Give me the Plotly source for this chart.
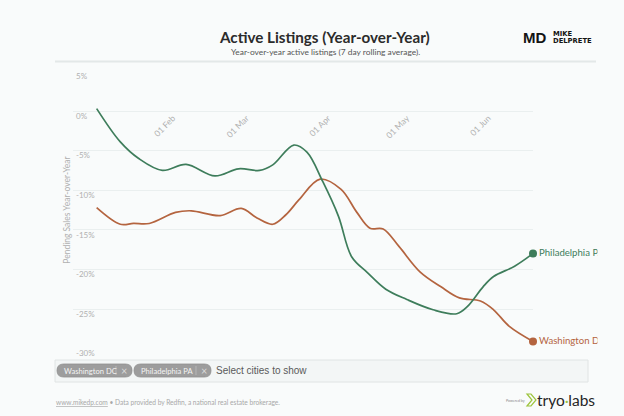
import plotly.graph_objects as go

# ---------------- data ----------------
phl_dates = ["2022-01-03", "2022-01-12", "2022-01-19", "2022-01-28", "2022-02-06",
             "2022-02-17", "2022-02-26", "2022-03-06", "2022-03-11", "2022-03-19",
             "2022-03-24", "2022-03-30", "2022-04-05", "2022-04-10", "2022-04-16",
             "2022-04-23", "2022-05-01", "2022-05-11", "2022-05-20", "2022-05-24",
             "2022-05-30", "2022-06-03", "2022-06-11", "2022-06-18"]
phl_vals = [0.3, -3.9, -6.0, -7.5, -6.75,
            -8.2, -7.3, -7.5, -6.8, -4.3,
            -5.2, -8.9, -13.3, -18.4, -20.4,
            -22.5, -23.8, -25.1, -25.6, -24.7,
            -22.2, -20.9, -19.6, -18.0]

dc_dates = ["2022-01-03", "2022-01-12", "2022-01-17", "2022-01-23", "2022-02-02",
            "2022-02-08", "2022-02-19", "2022-02-27", "2022-03-05", "2022-03-11",
            "2022-03-16", "2022-03-21", "2022-03-29", "2022-04-06", "2022-04-12",
            "2022-04-17", "2022-04-22", "2022-04-28", "2022-05-06", "2022-05-14",
            "2022-05-21", "2022-05-29", "2022-06-03", "2022-06-09", "2022-06-18"]
dc_vals = [-12.2, -14.3, -14.2, -14.2, -12.8,
           -12.6, -13.2, -12.3, -13.5, -14.3,
           -13.1, -11.2, -8.6, -9.9, -12.8,
           -14.8, -14.9, -17.1, -20.3, -22.2,
           -23.6, -24.0, -25.1, -27.2, -29.1]

y_tickvals = [5, 0, -5, -10, -15, -20, -25, -30]
y_ticktext = ["5%", "0%", "-5%", "-10%", "-15%", "-20%", "-25%", "-30%"]
x_tickvals = ["2022-02-01", "2022-03-01", "2022-04-01", "2022-05-01", "2022-06-01"]
x_ticktext = ["01 Feb", "01 Mar", "01 Apr", "01 May", "01 Jun"]
x_range = ["2021-12-25", "2022-06-18"]

series_names = ["Washington DC", "Philadelphia PA"]
series_colors = ["#b4643f", "#3e7d5b"]
series_dates = [dc_dates, phl_dates]
series_vals = [dc_vals, phl_vals]

# ---------------- layout helpers ----------------
W, H = 624, 416
L, R, T, B = 73, 91, 71, 67
PW, PH = W - L - R, H - T - B
BG = "#f9fbfb"
GREY = "#b0b0b0"


def px(x):
    return (x - L) / PW


def py(y):
    return (H - B - y) / PH


def pill(x0, x1, y0, y1):
    r = (y1 - y0) / 2
    ym = (y0 + y1) / 2
    pts = [("M", x0 + r, y0), ("L", x1 - r, y0), ("Q", x1, y0, x1, ym),
           ("Q", x1, y1, x1 - r, y1), ("L", x0 + r, y1), ("Q", x0, y1, x0, ym),
           ("Q", x0, y0, x0 + r, y0)]
    s = ""
    for p in pts:
        cmd = p[0]
        coords = p[1:]
        parts = []
        for i in range(0, len(coords), 2):
            parts.append(f"{px(coords[i]):.5f},{py(coords[i+1]):.5f}")
        s += cmd + " " + " ".join(parts) + " "
    return s + "Z"


fig = go.Figure()
for name, d, v, c in zip(series_names, series_dates, series_vals, series_colors):
    fig.add_trace(go.Scatter(
        x=d, y=v, mode="lines", name=name,
        line=dict(color=c, width=1.7, shape="spline", smoothing=1.0),
        cliponaxis=False, hoverinfo="skip", showlegend=False))
    fig.add_trace(go.Scatter(
        x=[d[-1]], y=[v[-1]], mode="markers+text", name=name,
        marker=dict(color=c, size=8),
        text=[name], textposition="middle right",
        textfont=dict(color=c, size=9.6, family="Lato"),
        cliponaxis=False, hoverinfo="skip", showlegend=False))

shapes = []
# header separator
shapes.append(dict(type="line", xref="paper", yref="paper",
                   x0=px(55), x1=px(596), y0=py(61.5), y1=py(61.5),
                   line=dict(color="#e3e8e8", width=2)))
# select box
shapes.append(dict(type="rect", xref="paper", yref="paper",
                   x0=px(55), x1=px(588), y0=py(360), y1=py(382),
                   fillcolor="#f3f6f6", line=dict(color="#e0e4e4", width=1)))
# chips
for cx0, cx1, sep in [(57, 132, 116), (134, 211, 196)]:
    shapes.append(dict(type="path", xref="paper", yref="paper",
                       path=pill(cx0, cx1, 364, 377),
                       fillcolor="#9d9d9d", line=dict(color="#8f8f8f", width=0.8)))
    shapes.append(dict(type="line", xref="paper", yref="paper",
                       x0=px(sep), x1=px(sep), y0=py(366), y1=py(375),
                       line=dict(color="#bcbcbc", width=0.8)))
# clip labels at right edge
shapes.append(dict(type="rect", xref="paper", yref="paper", layer="above",
                   x0=px(597.5), x1=px(630), y0=py(235), y1=py(356),
                   fillcolor=BG, line=dict(width=0)))
# tryo chevron
chev = [(527, 394), (531, 394), (536, 400), (531, 406), (527, 406), (532, 400)]
path = "M " + " L ".join(f"{px(a):.5f},{py(b):.5f}" for a, b in chev) + " Z"
shapes.append(dict(type="path", xref="paper", yref="paper", path=path,
                   fillcolor="rgba(0,0,0,0)", line=dict(color="#9cc43c", width=1.2)))

ann = []


def add_text(text, x, y, size, color, family="Lato", xanchor="left", yanchor="middle", **kw):
    ann.append(dict(text=text, x=px(x), y=py(y), xref="paper", yref="paper",
                    xanchor=xanchor, yanchor=yanchor, showarrow=False,
                    font=dict(size=size, color=color, family=family), **kw))


add_text("<b>Active Listings (Year-over-Year)</b>", 324.5, 36.5, 15.2, "#2b2b2b", xanchor="center")
add_text("Year-over-year active listings (7 day rolling average).", 325.5, 51.5, 8.4, "#555555",
         xanchor="center")
add_text("<b>MD</b>", 521, 37.5, 15, "#141414", family="Liberation Sans")
add_text("<b>MIKE</b>", 551, 34.3, 6.8, "#141414", family="DejaVu Sans")
add_text("<b>DELPRETE</b>", 551, 40.8, 6.8, "#141414", family="DejaVu Sans")
add_text("Washington DC", 61.5, 370.8, 7.6, "#f4f4f4")
add_text("×", 124, 370.5, 11, "#d9d9d9", xanchor="center")
add_text("Philadelphia PA", 138.5, 370.8, 7.6, "#f4f4f4")
add_text("×", 204, 370.5, 11, "#d9d9d9", xanchor="center")
add_text("Select cities to show", 213.5, 370.5, 10, "#5a5a5a", family="Liberation Sans")
add_text("<u>www.mikedp.com</u> • Data provided by Redfin, a national real estate brokerage.",
         54, 402, 6.6, "#a8a8a8")
add_text("Powered by", 504, 400.5, 3.6, "#888888")
add_text("tryo<span style='color:#9cc43c'>·</span>labs", 535, 399.5, 15.5, "#262626")

fig.update_layout(
    width=W, height=H,
    margin=dict(l=L, r=R, t=T, b=B, pad=0),
    paper_bgcolor=BG, plot_bgcolor=BG,
    showlegend=False,
    shapes=shapes, annotations=ann,
    font=dict(family="Lato", color=GREY),
    xaxis=dict(type="date", range=x_range, tickvals=x_tickvals, ticktext=x_ticktext,
               tickangle=-45, showgrid=False, zeroline=False, showline=False,
               ticks="", anchor="free", position=py(110.7),
               tickfont=dict(size=8.5, color=GREY, family="Lato")),
    yaxis=dict(range=[-30.05, 5.05], tickvals=y_tickvals, ticktext=y_ticktext,
               ticklabelposition="inside", ticklabelshift=5, ticks="",
               ticklabeloverflow="allow",
               showgrid=True, gridcolor="#eaefef", gridwidth=1,
               zeroline=False, showline=False,
               tickfont=dict(size=8, color=GREY, family="Lato"),
               title=dict(text="Pending Sales Year-over-Year", standoff=4,
                          font=dict(size=8.5, color=GREY, family="Lato"))),
)

fig.write_html(
    "out.html",
    config={"displayModeBar": False},
    post_script="document.body.style.margin='0';document.body.style.overflow='hidden';"
                "document.body.style.background='" + BG + "';",
)
